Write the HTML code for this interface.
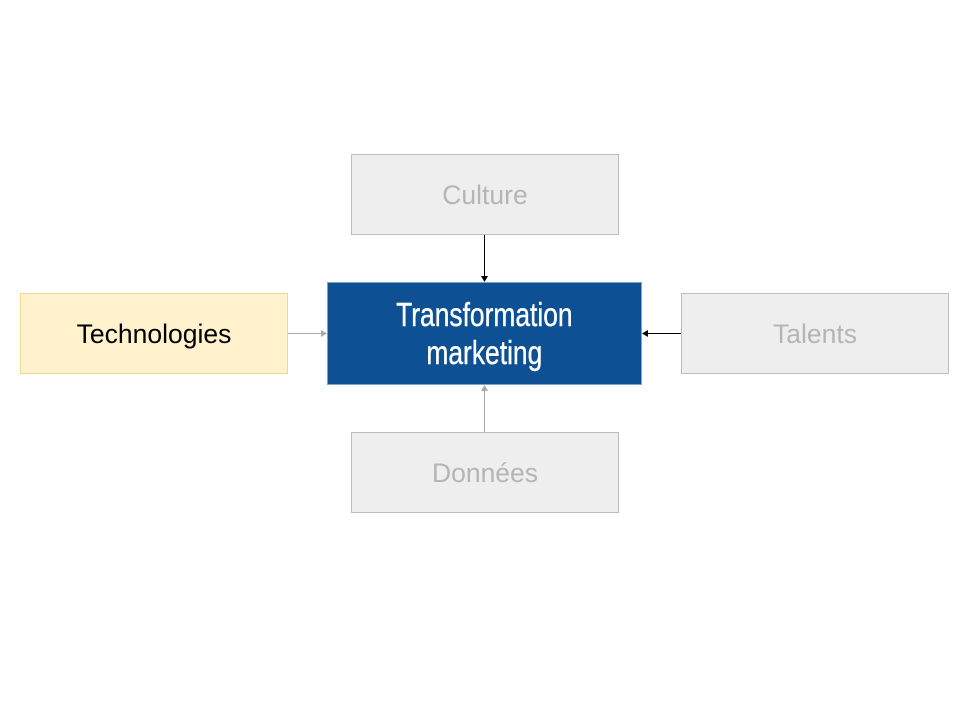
<!DOCTYPE html>
<html><head><meta charset="utf-8"><style>
body{margin:0;width:960px;height:720px;background:#fff;position:relative;overflow:hidden;font-family:"Liberation Sans",sans-serif}
.b{position:absolute;box-sizing:border-box;display:flex;align-items:center;justify-content:center;font-size:26.5px;padding-top:2px}
.g{background:#eeeeee;border:1px solid #bdbdbd;color:#b5b5b5}
</style></head><body>
<div class="b g" style="left:351px;top:154px;width:268px;height:81px">Culture</div>
<div class="b g" style="left:681px;top:293px;width:268px;height:81px">Talents</div>
<div class="b g" style="left:351px;top:432px;width:268px;height:81px">Données</div>
<div class="b" style="left:20px;top:293px;width:268px;height:81px;background:#fff2cc;border:1px solid #f1d98a;color:#000">Technologies</div>
<div class="b" style="left:327px;top:282px;width:315px;height:103px;background:#0d5194;border:1px solid #7fa3c8;color:#fff;padding-top:0">
<div style="font-family:'Liberation Sans Narrow','Liberation Sans',sans-serif;font-size:33px;line-height:38px;text-align:center;transform:scaleX(0.8);-webkit-text-stroke:0.4px #fff">Transformation<br>marketing</div></div>
<svg width="960" height="720" style="position:absolute;left:0;top:0">
<line x1="484.5" y1="235" x2="484.5" y2="276" stroke="#000" stroke-width="1"/>
<polygon points="481,276 488,276 484.5,282" fill="#000"/>
<line x1="681" y1="333.5" x2="648" y2="333.5" stroke="#000" stroke-width="1"/>
<polygon points="648,330 648,337 642,333.5" fill="#000"/>
<line x1="288" y1="333.5" x2="321" y2="333.5" stroke="#aaa" stroke-width="1"/>
<polygon points="321,330 321,337 327,333.5" fill="#aaa"/>
<line x1="484.5" y1="432" x2="484.5" y2="391" stroke="#aaa" stroke-width="1"/>
<polygon points="481,391 488,391 484.5,385" fill="#aaa"/>
</svg>
</body></html>
